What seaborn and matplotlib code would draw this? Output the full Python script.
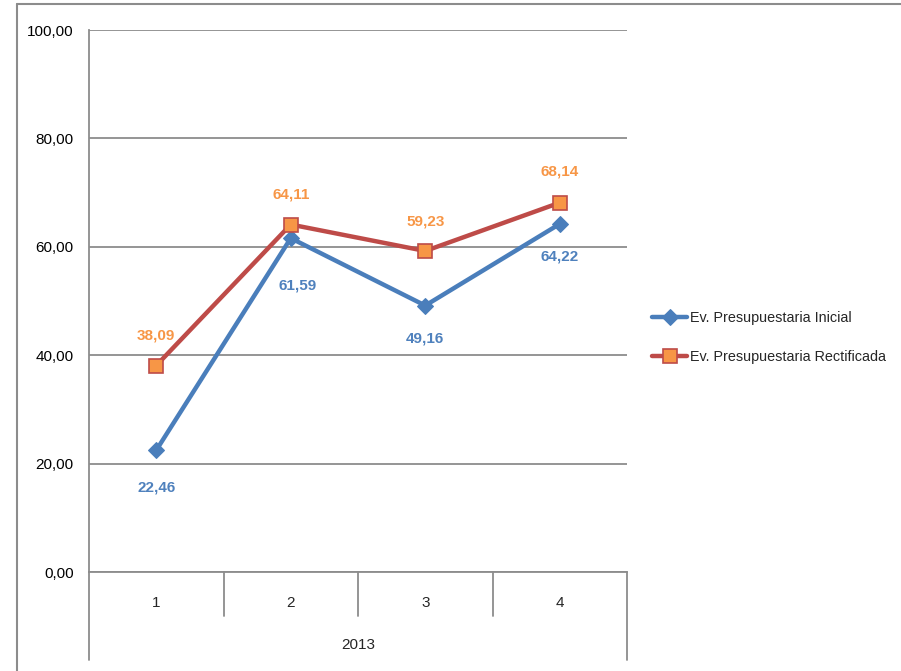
import matplotlib
matplotlib.use("Agg")
import matplotlib.pyplot as plt
from matplotlib.lines import Line2D
from matplotlib.ticker import FuncFormatter, MultipleLocator
import seaborn as sns
import pandas as pd

categories = ["1", "2", "3", "4"]
group_label = "2013"
series_names = ["Ev. Presupuestaria Inicial", "Ev. Presupuestaria Rectificada"]
inicial = [22.46, 61.59, 49.16, 64.22]
rectificada = [38.09, 64.11, 59.23, 68.14]

sns.set_style("white")
FONT = ["Liberation Sans Narrow", "Liberation Sans", "DejaVu Sans"]
plt.rcParams["font.family"] = FONT

BLUE = "#4A7EBB"
BLUE_LBL = "#4F81BD"
RED = "#BE4B48"
ORANGE = "#F79646"
GRID = "#8C8C8C"
FS = 11

fig = plt.figure(figsize=(9.01, 6.71), dpi=100)
ax = fig.add_axes([89 / 901, 1 - 572 / 671, (627 - 89) / 901, (572 - 30) / 671])

pos = list(range(len(categories)))
df = pd.DataFrame({"pos": pos, "ini": inicial, "rec": rectificada})

sns.lineplot(data=df, x="pos", y="ini", ax=ax, color=BLUE, linewidth=3.2,
             marker="D", markersize=8.5, markerfacecolor=BLUE, markeredgecolor=BLUE,
             label=series_names[0], legend=False)
sns.lineplot(data=df, x="pos", y="rec", ax=ax, color=RED, linewidth=3.2,
             marker="s", markersize=10, markerfacecolor=ORANGE, markeredgecolor=RED,
             markeredgewidth=1.2, label=series_names[1], legend=False)

ax.set_xlim(-0.5, len(categories) - 0.5)
ax.set_ylim(0, 100)
ax.yaxis.set_major_locator(MultipleLocator(20))
ax.yaxis.set_major_formatter(FuncFormatter(lambda v, p: f"{v:.2f}".replace(".", ",")))
ax.set_xticks([])
ax.set_xlabel("")
ax.set_ylabel("")
ax.grid(axis="y", color=GRID, linewidth=1.3)
ax.set_axisbelow(True)
for s in ["top", "right"]:
    ax.spines[s].set_visible(False)
for s in ["left", "bottom"]:
    ax.spines[s].set_color(GRID)
    ax.spines[s].set_linewidth(1.3)
ax.tick_params(axis="y", direction="out", length=5, width=1.2, color=GRID,
               pad=6, labelsize=FS, labelcolor="#000000")

# data labels
off_ini = [(0, -37), (7, -47), (0, -33), (0, -33)]
off_rec = [(0, 30), (0, 30), (0, 29), (0, 31)]
for i, v in enumerate(inicial):
    ax.annotate(f"{v:.2f}".replace(".", ","), (pos[i], v), xytext=off_ini[i],
                textcoords="offset pixels", ha="center", va="center",
                fontsize=FS, fontweight="bold", color=BLUE_LBL)
for i, v in enumerate(rectificada):
    ax.annotate(f"{v:.2f}".replace(".", ","), (pos[i], v), xytext=off_rec[i],
                textcoords="offset pixels", ha="center", va="center",
                fontsize=FS, fontweight="bold", color=ORANGE)

# category table below axis
h = 572 - 30
trans = ax.get_xaxis_transform()
for b in [p + 0.5 for p in pos[:-1]]:
    ax.add_line(Line2D([b, b], [0, -44 / h], transform=trans, color=GRID,
                       linewidth=1.3, clip_on=False))
for b in [-0.5, len(categories) - 0.5]:
    ax.add_line(Line2D([b, b], [0, -88 / h], transform=trans, color=GRID,
                       linewidth=1.3, clip_on=False))
for p, c in zip(pos, categories):
    ax.text(p, -31 / h, c, transform=trans, ha="center", va="center", fontsize=FS)
ax.text((len(categories) - 1) / 2, -73 / h, group_label, transform=trans,
        ha="center", va="center", fontsize=FS)

# legend
leg = ax.legend(loc="center left", bbox_to_anchor=(652 / 901, 1 - 337.5 / 671),
                bbox_transform=fig.transFigure, frameon=False, fontsize=10.4,
                handlelength=2.45, handletextpad=0.15, labelspacing=1.7,
                borderaxespad=0, borderpad=0)

# outer chart border (left and top)
fig.add_artist(Line2D([17 / 901, 17 / 901], [0, 1 - 4 / 671], transform=fig.transFigure,
                      color="#8C8C8C", linewidth=1.5))
fig.add_artist(Line2D([17 / 901, 1], [1 - 4 / 671, 1 - 4 / 671], transform=fig.transFigure,
                      color="#8C8C8C", linewidth=1.5))

fig.savefig("out.png", dpi=100)
